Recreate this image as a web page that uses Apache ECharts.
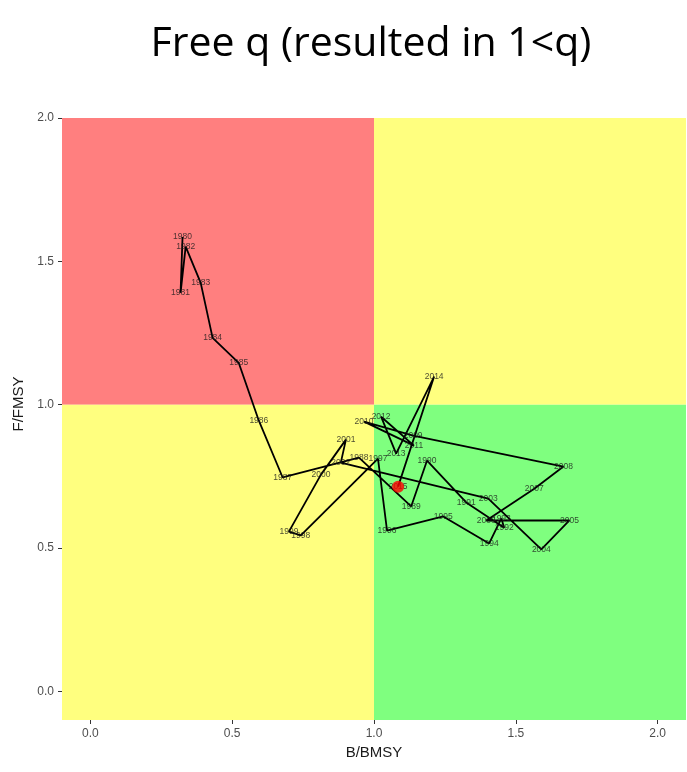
<!DOCTYPE html>
<html>
<head>
<meta charset="utf-8">
<script src="https://cdn.jsdelivr.net/npm/echarts@6/dist/echarts.min.js"></script>
<style>
  html, body { margin: 0; padding: 0; background: #ffffff; }
  #chart { width: 687px; height: 772px; }
</style>
</head>
<body>
<div id="chart"></div>
<script>
// Kobe trajectory: stock status (B/BMSY) vs fishing pressure (F/FMSY) by year
const years = [1980, 1981, 1982, 1983, 1984, 1985, 1986, 1987, 1988, 1989,
               1990, 1991, 1992, 1993, 1994, 1995, 1996, 1997, 1998, 1999,
               2000, 2001, 2002, 2003, 2004, 2005, 2006, 2007, 2008, 2009,
               2010, 2011, 2012, 2013, 2014, 2015];
const bRatio = [0.325, 0.318, 0.336, 0.389, 0.431, 0.523, 0.594, 0.678, 0.947, 1.131,
                1.187, 1.325, 1.459, 1.449, 1.406, 1.244, 1.046, 1.014, 0.742, 0.700,
                0.813, 0.901, 0.883, 1.403, 1.590, 1.689, 1.396, 1.565, 1.668, 1.138,
                0.965, 1.141, 1.025, 1.078, 1.212, 1.085];
const fRatio = [1.585, 1.390, 1.551, 1.425, 1.233, 1.146, 0.944, 0.746, 0.815, 0.645,
                0.805, 0.659, 0.571, 0.603, 0.516, 0.610, 0.561, 0.812, 0.544, 0.557,
                0.756, 0.878, 0.798, 0.672, 0.495, 0.596, 0.596, 0.707, 0.784, 0.892,
                0.941, 0.857, 0.958, 0.829, 1.098, 0.714];

// axis ranges and tick labels
const xRange = [-0.1, 2.1];
const yRange = [-0.1, 2.0];
const xTicks = [0, 0.5, 1, 1.5, 2];
const yTicks = [0, 0.5, 1, 1.5, 2];
const refB = 1;   // B = BMSY
const refF = 1;   // F = FMSY

// quadrant colours
const colOverfished = '#FF7F7F';
const colCaution = '#FFFF7F';
const colHealthy = '#7FFF7F';

const points = years.map((y, i) => [bRatio[i], fRatio[i], y]);
const last = points[points.length - 1];

const quadrants = [
  [{ xAxis: xRange[0], yAxis: refF, itemStyle: { color: colOverfished } }, { xAxis: refB, yAxis: yRange[1] }],
  [{ xAxis: refB, yAxis: refF, itemStyle: { color: colCaution } }, { xAxis: xRange[1], yAxis: yRange[1] }],
  [{ xAxis: xRange[0], yAxis: yRange[0], itemStyle: { color: colCaution } }, { xAxis: refB, yAxis: refF }],
  [{ xAxis: refB, yAxis: yRange[0], itemStyle: { color: colHealthy } }, { xAxis: xRange[1], yAxis: refF }]
];

const fmt = v => v.toFixed(1);
const chart = echarts.init(document.getElementById('chart'), null, { renderer: 'canvas' });

chart.setOption({
  animation: false,
  backgroundColor: '#ffffff',
  title: {
    text: 'Free q (resulted in 1<q)',
    left: 366,
    textAlign: 'center',
    top: 19,
    textStyle: { fontFamily: 'Open Sans', fontWeight: 'normal', fontSize: 41, color: '#000000' }
  },
  grid: { left: 62, right: 1, top: 118, bottom: 52 },
  xAxis: {
    type: 'value',
    min: xRange[0],
    max: xRange[1],
    name: 'B/BMSY',
    nameLocation: 'middle',
    nameGap: 24,
    nameTextStyle: { fontFamily: 'Liberation Sans', fontSize: 15, color: '#1a1a1a' },
    splitLine: { show: false },
    axisLine: { show: false, onZero: false },
    axisTick: { show: true, customValues: xTicks, length: 4, lineStyle: { color: '#333333' } },
    axisLabel: {
      customValues: xTicks,
      formatter: fmt,
      margin: 8,
      fontFamily: 'Liberation Sans',
      fontSize: 12,
      color: '#4d4d4d'
    }
  },
  yAxis: {
    type: 'value',
    min: yRange[0],
    max: yRange[1],
    name: 'F/FMSY',
    nameLocation: 'middle',
    nameGap: 34,
    nameTextStyle: { fontFamily: 'Liberation Sans', fontSize: 15, color: '#1a1a1a', padding: [0, 0, 0, 30] },
    splitLine: { show: false },
    axisLine: { show: false, onZero: false },
    axisTick: { show: true, customValues: yTicks, length: 4, lineStyle: { color: '#333333' } },
    axisLabel: {
      customValues: yTicks,
      formatter: fmt,
      margin: 8,
      fontFamily: 'Liberation Sans',
      fontSize: 12,
      color: '#4d4d4d'
    }
  },
  series: [
    {
      type: 'line',
      data: points,
      showSymbol: false,
      silent: true,
      lineStyle: { color: '#000000', width: 1.8 },
      markArea: { silent: true, z: -1, data: quadrants },
      z: 3
    },
    {
      type: 'scatter',
      data: points,
      symbolSize: 2,
      itemStyle: { color: 'rgba(0,0,0,0)' },
      silent: true,
      labelLayout: { hideOverlap: false },
      label: {
        show: true,
        position: 'inside',
        formatter: p => String(p.value[2]),
        fontFamily: 'Liberation Sans',
        fontSize: 8.5,
        color: '#1a1a1a'
      },
      z: 4
    },
    {
      type: 'scatter',
      data: [last],
      symbolSize: 12,
      itemStyle: { color: '#FF0000' },
      silent: true,
      z: 5
    }
  ]
});
</script>
</body>
</html>
